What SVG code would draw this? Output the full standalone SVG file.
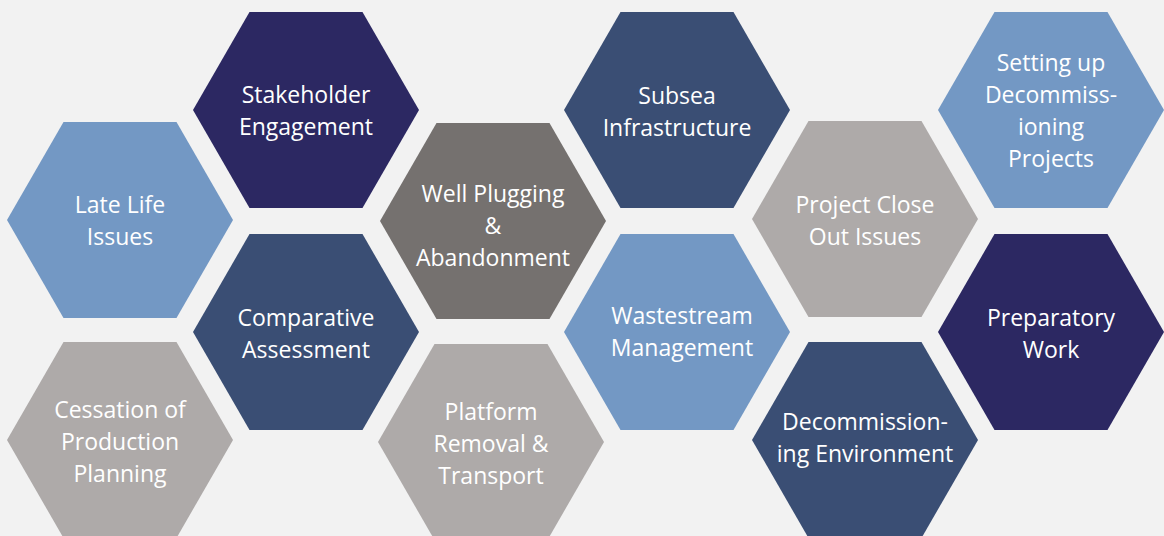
<svg xmlns="http://www.w3.org/2000/svg" width="1164" height="536" viewBox="0 0 1164 536">
<defs>
<style>
.bg{fill:#f2f2f2}
.lb{fill:#7398c4}
.dn{fill:#2c2862}
.mn{fill:#3a4e74}
.dg{fill:#75716f}
.lg{fill:#aeaaa9}
text{font-family:"Open Sans","Liberation Sans",sans-serif;font-size:23px;fill:#ffffff;text-anchor:middle}
</style>
<polygon id="hex" points="-113,0 -56.5,-98 56.5,-98 113,0 56.5,98 -56.5,98"/>
</defs>
<rect class="bg" x="0" y="0" width="1164" height="536"/>
<g id="late-life">
<use href="#hex" class="lb" x="120" y="220"/>
<text x="120" y="213">Late Life</text><text x="120" y="245">Issues</text>
</g>
<g id="stakeholder">
<use href="#hex" class="dn" x="306" y="110"/>
<text x="306" y="103">Stakeholder</text><text x="306" y="135">Engagement</text>
</g>
<g id="well-plugging">
<use href="#hex" class="dg" x="493" y="221"/>
<text x="493" y="202">Well Plugging</text><text x="493" y="234">&amp;</text><text x="493" y="266">Abandonment</text>
</g>
<g id="subsea">
<use href="#hex" class="mn" x="677" y="110"/>
<text x="677" y="104">Subsea</text><text x="677" y="136">Infrastructure</text>
</g>
<g id="project-close">
<use href="#hex" class="lg" x="865" y="219"/>
<text x="865" y="213">Project Close</text><text x="865" y="245">Out Issues</text>
</g>
<g id="setting-up">
<use href="#hex" class="lb" x="1051" y="110"/>
<text x="1051" y="71">Setting up</text><text x="1051" y="103">Decommiss-</text><text x="1051" y="135">ioning</text><text x="1051" y="167">Projects</text>
</g>
<g id="cessation">
<use href="#hex" class="lg" x="120" y="440"/>
<text x="120" y="418">Cessation of</text><text x="120" y="450">Production</text><text x="120" y="482">Planning</text>
</g>
<g id="comparative">
<use href="#hex" class="mn" x="306" y="332"/>
<text x="306" y="326">Comparative</text><text x="306" y="358">Assessment</text>
</g>
<g id="platform">
<use href="#hex" class="lg" x="491" y="442"/>
<text x="491" y="420">Platform</text><text x="491" y="452">Removal &amp;</text><text x="491" y="484">Transport</text>
</g>
<g id="wastestream">
<use href="#hex" class="lb" x="677" y="332"/>
<text x="682" y="324">Wastestream</text><text x="682" y="356">Management</text>
</g>
<g id="decom-env">
<use href="#hex" class="mn" x="865" y="440"/>
<text x="865" y="430">Decommission-</text><text x="865" y="462">ing Environment</text>
</g>
<g id="preparatory">
<use href="#hex" class="dn" x="1051" y="332"/>
<text x="1051" y="326">Preparatory</text><text x="1051" y="358">Work</text>
</g>
<g id="connectors"/>
</svg>
